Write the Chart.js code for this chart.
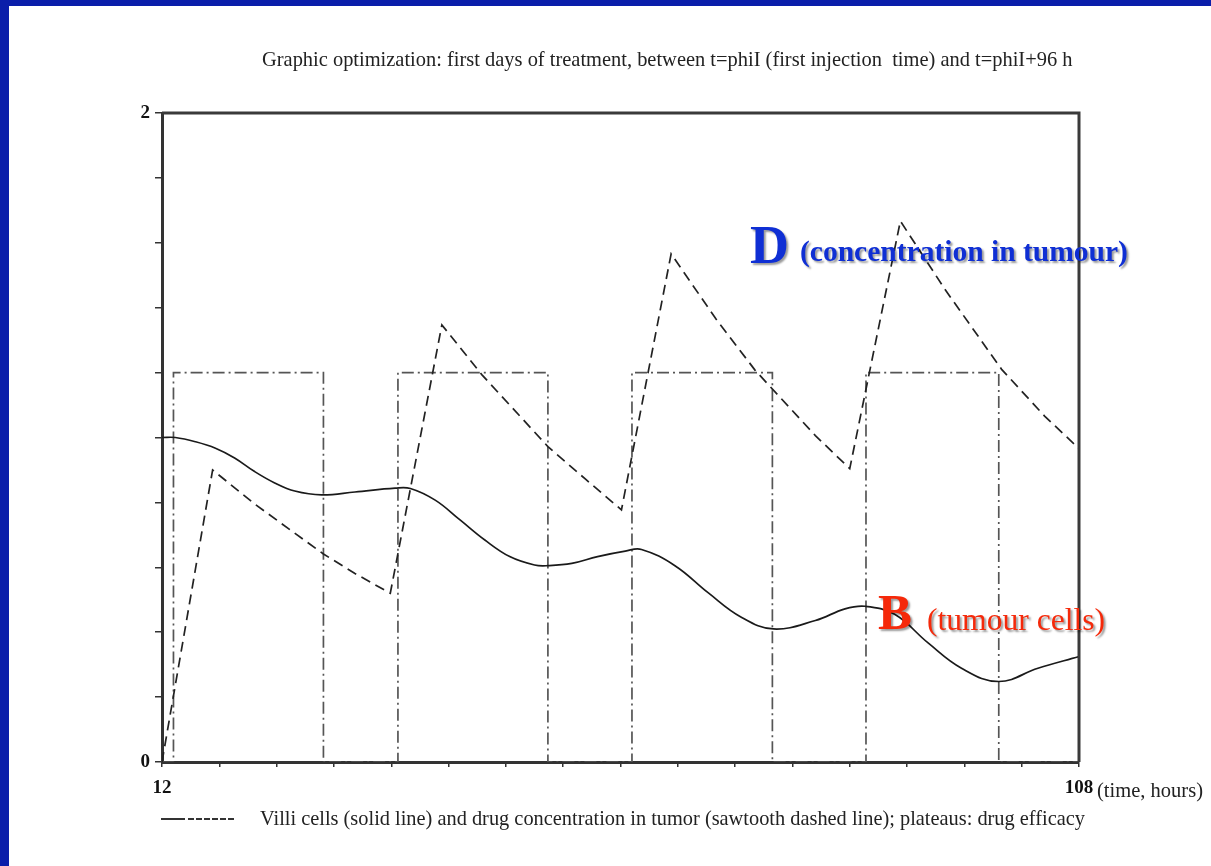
<!DOCTYPE html>
<html>
<head>
<meta charset="utf-8">
<script src="https://cdn.jsdelivr.net/npm/chart.js@4/dist/chart.umd.min.js"></script>
<style>
    html, body { margin: 0; padding: 0; background: #fff; overflow: hidden; }
    #page { position: relative; width: 1211px; height: 866px; background: #fff; }
    #chartBox { position: absolute; left: 0; top: 0; width: 1211px; height: 866px; }
    .frame-left { position: absolute; left: 0; top: 0; width: 9px; height: 866px; background: #0a1eaa; z-index: 5; }
    .frame-top { position: absolute; left: 0; top: 0; width: 1211px; height: 6px; background: #0a1eaa; z-index: 5; }
    .txt { position: absolute; white-space: pre; line-height: 1; font-family: "Liberation Serif", "Times New Roman", serif; color: #222; z-index: 4; }
    .note-d { color: #0f2fd4; text-shadow: 2px 2px 2px rgba(0, 0, 0, 0.4); }
    .note-b { color: #f5290a; text-shadow: 2px 2px 2px rgba(0, 0, 0, 0.4); }
    #legendLine { position: absolute; left: 161px; top: 814px; z-index: 4; }
</style>
</head>
<body>
<div id="page">
    <div id="chartBox"><canvas id="plot"></canvas></div>
    <div class="frame-left"></div>
    <div class="frame-top"></div>
    <svg id="legendLine" width="80" height="10">
        <line x1="0" y1="5" x2="78" y2="5" stroke="#333" stroke-width="2" stroke-dasharray="24,3,6,2,6,2,6,2,6,2,6,2,6"></line>
    </svg>
</div>
<script>
// Time axis (hours) and values
const bTimes  = [12, 13.4, 15.5, 17.6, 19.6, 21.7, 23.8, 25.9, 28.7, 32.2, 36.4, 38.0, 40.6, 43.2, 45.8, 48.4, 51.0, 52.4, 54.9, 57.6, 60.5, 62.2, 65.7, 69.2, 72.6, 76.0, 80.4, 83.5, 85.6, 88.7, 92.2, 95.7, 99.6, 103.7, 108];
const bValues = [1.0, 1.0, 0.987, 0.967, 0.937, 0.895, 0.860, 0.835, 0.823, 0.832, 0.844, 0.843, 0.807, 0.746, 0.684, 0.633, 0.607, 0.605, 0.612, 0.633, 0.650, 0.655, 0.605, 0.521, 0.447, 0.410, 0.436, 0.472, 0.480, 0.455, 0.367, 0.289, 0.248, 0.289, 0.325];

// Drug concentration (sawtooth)
const dTimes  = [12, 17.3, 21.7, 28.9, 32.2, 35.9, 41.3, 45.5, 52.4, 56.4, 60.1, 65.3, 70.0, 74.1, 80.4, 84.0, 89.3, 94.0, 99.9, 104.4, 108];
const dValues = [0, 0.900, 0.795, 0.641, 0.581, 0.520, 1.347, 1.193, 0.972, 0.870, 0.777, 1.566, 1.365, 1.207, 1.006, 0.904, 1.667, 1.455, 1.210, 1.066, 0.966];

// Efficacy plateaus: level holds from each time until the next one
const pTimes  = [12, 13.2, 28.9, 36.7, 52.4, 61.2, 75.9, 85.7, 99.6, 108];
const pLevels = [0, 1.2, 0, 1.2, 0, 1.2, 0, 1.2, 0, 0];

// Only the axis ends carry a label
const xLabelTicks = [12, 108];
const yLabelTicks = [0, 2];

const titleText = 'Graphic optimization: first days of treatment, between t=phiI (first injection  time) and t=phiI+96 h';
const footerText = 'Villi cells (solid line) and drug concentration in tumor (sawtooth dashed line); plateaus: drug efficacy';

const SERIF = '"Liberation Serif", "Times New Roman", serif';

function toPoints(xs, ys) {
    return xs.map((x, i) => ({ x: x, y: ys[i] }));
}

// Places a text so its width and baseline match the picture
function placeText(text, cls, left, baseline, width, weight) {
    const el = document.createElement('div');
    el.className = 'txt ' + (cls || '');
    el.textContent = text;
    const ctx = document.createElement('canvas').getContext('2d');
    ctx.font = (weight || 'normal') + ' 100px ' + SERIF;
    const size = 100 * width / ctx.measureText(text).width;
    el.style.fontSize = size.toFixed(2) + 'px';
    el.style.fontWeight = weight || 'normal';
    el.style.left = left + 'px';
    el.style.top = (baseline - 0.8375 * size).toFixed(1) + 'px';
    document.getElementById('page').appendChild(el);
}

// Closes the plot box on top and right
const boxFrame = {
    id: 'boxFrame',
    afterDraw(chart) {
        const a = chart.chartArea;
        const ctx = chart.ctx;
        ctx.save();
        ctx.strokeStyle = '#3a3a3a';
        ctx.lineWidth = 3;
        ctx.beginPath();
        ctx.moveTo(a.left, a.top);
        ctx.lineTo(a.right, a.top);
        ctx.lineTo(a.right, a.bottom);
        ctx.stroke();
        ctx.restore();
    }
};

function initChart() {
    const ctx = document.getElementById('plot').getContext('2d');
    Chart.defaults.font.family = SERIF;
    Chart.defaults.color = '#111';

    new Chart(ctx, {
        type: 'line',
        data: {
            datasets: [{
                label: 'B (tumour cells)',
                data: toPoints(bTimes, bValues),
                borderColor: '#1a1a1a',
                borderWidth: 1.7,
                tension: 0.4,
                pointRadius: 0
            }, {
                label: 'D (concentration in tumour)',
                data: toPoints(dTimes, dValues),
                borderColor: '#222',
                borderWidth: 1.7,
                borderDash: [10, 6],
                tension: 0,
                pointRadius: 0
            }, {
                label: 'drug efficacy',
                data: toPoints(pTimes, pLevels),
                borderColor: '#555',
                borderWidth: 1.7,
                borderDash: [12, 4, 2, 4],
                stepped: true,
                pointRadius: 0
            }]
        },
        options: {
            responsive: true,
            maintainAspectRatio: false,
            animation: false,
            layout: { padding: { left: 0, top: 113, right: 132, bottom: 0 } },
            plugins: {
                legend: { display: false },
                tooltip: { enabled: false }
            },
            scales: {
                x: {
                    type: 'linear',
                    min: 12,
                    max: 108,
                    afterFit(scale) { scale.height = 104; },
                    border: { display: true, color: '#333', width: 3 },
                    grid: { drawOnChartArea: false, drawTicks: true, tickLength: 5, color: '#333', lineWidth: 1.5 },
                    ticks: {
                        stepSize: 6,
                        autoSkip: false,
                        maxRotation: 0,
                        padding: 10,
                        font: { size: 19, weight: 'bold' },
                        callback: v => xLabelTicks.includes(v) ? String(v) : ''
                    }
                },
                y: {
                    min: 0,
                    max: 2,
                    afterFit(scale) { scale.width = 162; },
                    border: { display: true, color: '#333', width: 3 },
                    grid: { drawOnChartArea: false, drawTicks: true, tickLength: 7, color: '#333', lineWidth: 1.5 },
                    ticks: {
                        stepSize: 0.2,
                        padding: 5,
                        font: { size: 19, weight: 'bold' },
                        callback: v => yLabelTicks.includes(v) ? String(v) : ''
                    }
                }
            }
        },
        plugins: [boxFrame]
    });
}

document.addEventListener('DOMContentLoaded', () => {
    initChart();

    placeText(titleText, '', 262, 66, 811);
    placeText(footerText, '', 260, 825, 826);
    placeText('(time, hours)', '', 1097, 797, 106);

    placeText('D', 'note-d', 750, 263, 39, 'bold');
    placeText('(concentration in tumour)', 'note-d', 800, 262, 328, 'bold');
    placeText('B', 'note-b', 878, 630, 34, 'bold');
    placeText('(tumour cells)', 'note-b', 927, 630, 178);
});
</script>
</body>
</html>
